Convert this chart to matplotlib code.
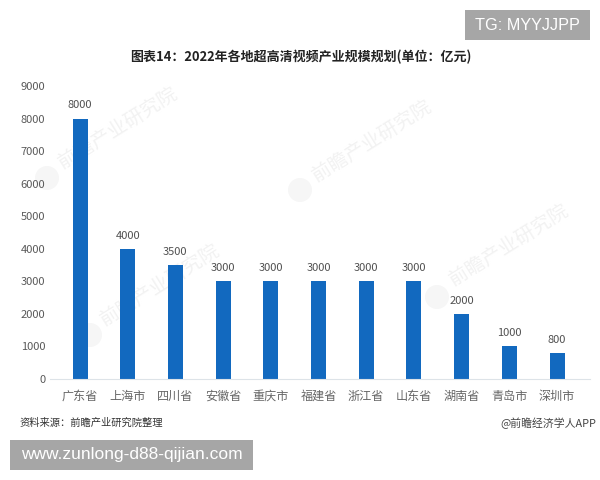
import matplotlib
matplotlib.use("Agg")
import matplotlib.pyplot as plt
from matplotlib.patches import Rectangle, Ellipse

plt.rcParams['font.family'] = ['Noto Sans CJK SC', 'DejaVu Sans']

regions = ["广东省", "上海市", "四川省", "安徽省", "重庆市", "福建省", "浙江省", "山东省", "湖南省", "青岛市", "深圳市"]
values = [8000, 4000, 3500, 3000, 3000, 3000, 3000, 3000, 2000, 1000, 800]
yticks = [0, 1000, 2000, 3000, 4000, 5000, 6000, 7000, 8000, 9000]
title = "图表14：2022年各地超高清视频产业规模规划(单位：亿元)"
source = "资料来源：前瞻产业研究院整理"
credit = "@前瞻经济学人APP"
tag_top = "TG: MYYJJPP"
tag_bottom = "www.zunlong-d88-qijian.com"
wm_text = "前瞻产业研究院"
wm_centres = [(118, 128), (160, 285), (372, 141), (509, 245)]
wm_logos = [(47, 178), (90, 335), (300, 190), (437, 297)]

W, H = 600, 480
fig = plt.figure(figsize=(W / 100, H / 100), dpi=100)
x0, x1, y0, y9 = 50, 590, 379, 86
ax = fig.add_axes([x0 / W, 1 - y0 / H, (x1 - x0) / W, (y0 - y9) / H])
ax.patch.set_visible(False)

pitch = 47.7
first = 80
ax.set_xlim((x0 - first) / pitch, (x1 - first) / pitch)
ax.set_ylim(0, 9000)
pos = list(range(len(regions)))
ax.bar(pos, values, width=15 / pitch, color="#1269BF", zorder=2)
for p, v in zip(pos, values):
    ax.annotate(str(v), (p, v), xytext=(0, 9.4), textcoords="offset points",
                ha="center", va="center", fontsize=8, color="#505050", zorder=4)

ax.set_xticks(pos, regions, fontsize=8.7, color="#666666")
ax.set_yticks(yticks, [str(t) for t in yticks], fontsize=8, color="#595959")
ax.tick_params(length=0)
ax.tick_params(axis="x", pad=8)
ax.tick_params(axis="y", pad=3.5)
for s in ("top", "right", "left"):
    ax.spines[s].set_visible(False)
ax.spines["bottom"].set_color("#DDE3E8")
ax.spines["bottom"].set_linewidth(0.8)

fig.text(300.5 / W, 1 - 57 / H, title, ha="center", va="center", fontsize=9.35,
         fontweight="bold", color="#222222")
fig.text(20 / W, 1 - 423 / H, source, ha="left", va="center", fontsize=7.4, color="#333333")
fig.text(596 / W, 1 - 423 / H, credit, ha="right", va="center", fontsize=7.8, color="#444444")

for (wx, wy), (lx, ly) in zip(wm_centres, wm_logos):
    fig.text(wx / W, 1 - wy / H, wm_text, rotation=32, ha="center", va="center",
             fontsize=14, color="#F2F2F2", zorder=-1)
    fig.add_artist(Ellipse((lx / W, 1 - ly / H), 24 / W, 24 / H, transform=fig.transFigure,
                           color="#F6F6F6", lw=0, zorder=-1))

fig.add_artist(Rectangle((465 / W, 1 - 40 / H), 125 / W, 30 / H, transform=fig.transFigure,
                         color="#A6A6A6", lw=0, zorder=3))
fig.text(527 / W, 1 - 25.5 / H, tag_top, ha="center", va="center", fontsize=11.7,
         color="white", family="Liberation Sans", zorder=5)
fig.add_artist(Rectangle((10 / W, 1 - 470 / H), 243 / W, 30 / H, transform=fig.transFigure,
                         color="#A6A6A6", lw=0, zorder=3))
fig.text(131.5 / W, 1 - 455 / H, tag_bottom, ha="center", va="center", fontsize=12.5,
         color="white", family="Liberation Sans", zorder=5)

fig.savefig("out.png", dpi=100)
